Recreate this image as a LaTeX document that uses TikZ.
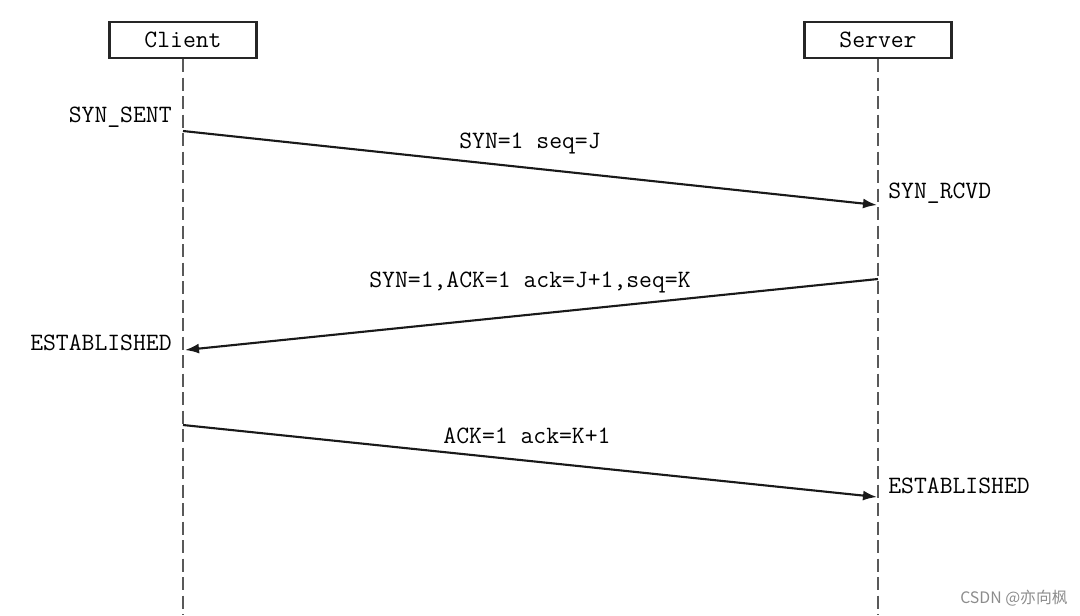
\documentclass[tikz,border=0pt]{standalone}
\usepackage{fontspec}
\newfontfamily\markfont{Noto Sans CJK SC}
\usetikzlibrary{arrows.meta}

\tikzset{
    party/.style={draw=black!85, line width=1.3pt, fill=white,
        minimum width=29.4mm, minimum height=7.2mm, inner sep=0pt,
        font=\ttfamily\fontsize{14.2}{16}\selectfont},
    lifeline/.style={draw=black!65, line width=1.4pt,
        dash pattern=on 2.6mm off 1.1mm},
    msg/.style={-{Latex[length=2.8mm,width=2mm]}, line width=1.2pt, black!90},
    state/.style={inner sep=0pt, font=\ttfamily\fontsize{14.2}{16}\selectfont},
    msglabel/.style={inner sep=0pt, font=\ttfamily\fontsize{14.2}{16}\selectfont}
}

\begin{document}
\begin{tikzpicture}[x=0.2mm, y=-0.2mm]
        \useasboundingbox (0,0) rectangle (1080,615);

        % Participants
        \node[party] (client) at (183,40) {Client};
        \node[party] (server) at (878,40) {Server};

        % Lifelines
        \coordinate (clientend) at (183,615);
        \coordinate (serverend) at (878,615);
        \draw[lifeline] (client.south) -- (clientend);
        \draw[lifeline] (server.south) -- (serverend);

        % Message end points on the lifelines
        \coordinate (c1) at (183,131);
        \coordinate (s1) at (877,205);
        \coordinate (s2) at (878,279);
        \coordinate (c2) at (185,350);
        \coordinate (c3) at (183,425);
        \coordinate (s3) at (877,497);

        % First handshake
        \draw[msg] (c1) -- (s1);
        \node[msglabel] (m1) at (530,143) {SYN=1 seq=J};
        \node[state, anchor=east] (synsent) at (172,117) {SYN\_SENT};
        \node[state, anchor=west] (synrcvd) at (888,193) {SYN\_RCVD};

        % Second handshake
        \draw[msg] (s2) -- (c2);
        \node[msglabel] (m2) at (530,282) {SYN=1,ACK=1 ack=J+1,seq=K};
        \node[state, anchor=east] (estclient) at (172,343) {ESTABLISHED};

        % Third handshake
        \draw[msg] (c3) -- (s3);
        \node[msglabel] (m3) at (527,436) {ACK=1 ack=K+1};
        \node[state, anchor=west] (estserver) at (888,486) {ESTABLISHED};

        % Watermark
        \node[inner sep=0pt, anchor=east, text=black!45,
            font=\markfont\fontsize{9}{11}\selectfont] (mark) at (1068,598) {CSDN @亦向枫};
\end{tikzpicture}
\end{document}
